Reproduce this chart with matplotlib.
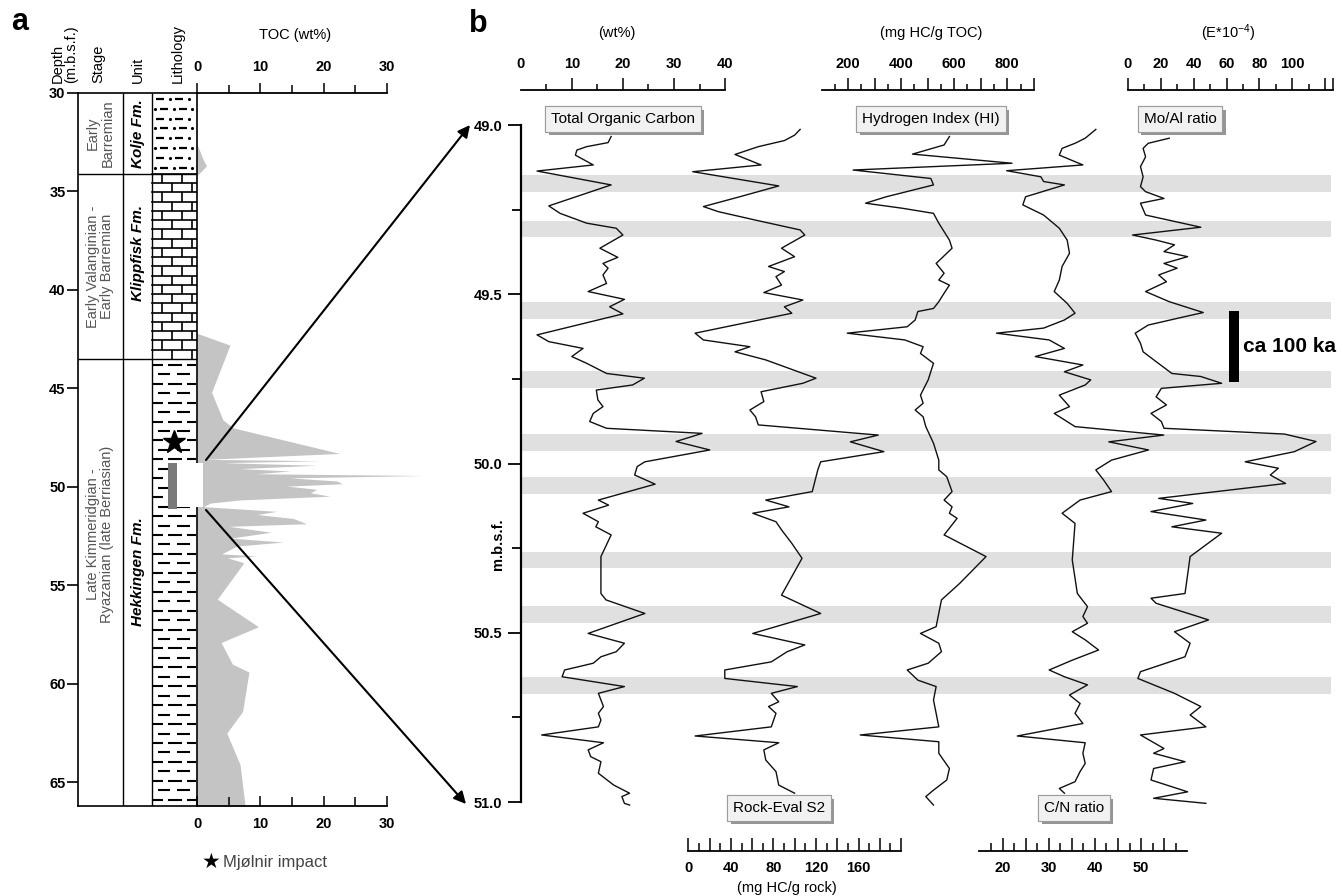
import matplotlib.pyplot as plt
import matplotlib.patheffects as pe
from matplotlib.patches import Rectangle

plt.rcParams['font.family'] = ['Liberation Sans', 'DejaVu Sans']
plt.rcParams['mathtext.default'] = 'regular'

# ---------------- panel a: long TOC record ----------------
toc_a_depth = [32.6, 33.4, 33.7, 34.1, 34.2, 42.2, 42.8, 45.2, 46.6, 47.0,
               48.3, 48.6, 48.67, 48.77, 48.9, 49.07, 49.19, 49.33, 49.42, 49.54,
               49.70, 49.84, 49.96, 50.12, 50.30, 50.47, 50.66, 50.82, 51.0, 51.24,
               51.4, 51.6, 51.87, 52.0, 52.3, 52.6, 52.8, 53.0, 53.4, 53.5,
               53.6, 53.85, 55.7, 57.1, 57.9, 59.0, 59.4, 61.4, 62.5, 64.1, 66.2]
toc_a = [0, 1.0, 1.5, 0.3, 0, 0, 5.2, 2.3, 4.1, 5.7,
         22.5, 1.3, 19.4, 4.2, 18.9, 6.8, 14.7, 9.4, 35.8, 14.7,
         22.1, 22.9, 14.2, 18.9, 17.9, 21.0, 6.8, 2.1, 1.0, 12.6,
         9.5, 15.2, 17.3, 5.0, 11.7, 5.3, 13.6, 6.3, 3.9, 9.4,
         4.8, 7.4, 3.2, 9.7, 3.8, 5.6, 8.2, 7.2, 4.7, 6.8, 7.6]
stage_bounds = [30.0, 34.1, 43.5, 66.2]
stage_names = ['Early\nBarremian', 'Early Valanginian -\nEarly Barremian',
               'Late Kimmeridgian -\nRyazanian (late Berriasian)']
unit_names = ['Kolje Fm.', 'Klippfisk Fm.', 'Hekkingen Fm.']
depth_ticks_a = [30, 35, 40, 45, 50, 55, 60, 65]
impact_depth = 47.7
core_top, core_bottom = 48.8, 51.1

# ---------------- panel b: 49-51 m detail ----------------
toc_b_depth = [49.034, 49.052, 49.064, 49.074, 49.089, 49.118, 49.136, 49.177, 49.239, 49.261,
               49.290, 49.305, 49.325, 49.364, 49.391, 49.409, 49.423, 49.443, 49.468, 49.492,
               49.515, 49.537, 49.558, 49.620, 49.640, 49.660, 49.684, 49.704, 49.734, 49.748,
               49.768, 49.783, 49.812, 49.832, 49.852, 49.876, 49.896, 49.911, 49.935, 49.960,
               49.995, 50.009, 50.034, 50.061, 50.108, 50.123, 50.147, 50.172, 50.187, 50.211,
               50.275, 50.384, 50.403, 50.443, 50.502, 50.531, 50.556, 50.571, 50.590, 50.610,
               50.630, 50.659, 50.679, 50.718, 50.738, 50.758, 50.778, 50.802, 50.825, 50.846,
               50.866, 50.881, 50.915, 50.950, 50.974, 50.984, 51.004, 51.009]
toc_b = [17.7, 17.1, 12.9, 11.0, 10.7, 14.2, 3.2, 17.7, 5.5, 7.7,
         12.9, 18.7, 20.0, 15.5, 19.0, 16.1, 17.1, 16.1, 16.8, 13.2,
         20.3, 17.4, 20.0, 3.2, 5.5, 12.2, 10.0, 12.9, 16.8, 24.2,
         21.9, 14.8, 15.1, 16.1, 14.2, 13.5, 16.8, 35.5, 30.4, 37.0,
         24.3, 22.8, 22.3, 26.3, 15.2, 17.2, 12.2, 15.2, 14.7, 17.7,
         15.7, 15.7, 16.7, 24.3, 13.2, 20.3, 18.7, 15.7, 14.2, 8.6,
         8.1, 20.3, 15.2, 16.2, 15.2, 15.7, 15.2, 4.1, 16.2, 13.2,
         13.7, 15.7, 15.2, 18.2, 21.3, 19.8, 20.3, 21.3]

s2_depth = [49.013, 49.030, 49.046, 49.064, 49.087, 49.118, 49.138, 49.180, 49.212, 49.241,
            49.256, 49.281, 49.310, 49.325, 49.364, 49.389, 49.418, 49.433, 49.448, 49.473,
            49.495, 49.517, 49.537, 49.556, 49.615, 49.635, 49.655, 49.670, 49.694, 49.748,
            49.763, 49.788, 49.817, 49.842, 49.862, 49.886, 49.916, 49.936, 49.965, 49.995,
            50.019, 50.083, 50.108, 50.128, 50.147, 50.172, 50.196, 50.236, 50.280, 50.389,
            50.443, 50.502, 50.536, 50.556, 50.586, 50.610, 50.635, 50.659, 50.679, 50.704,
            50.718, 50.738, 50.778, 50.805, 50.825, 50.846, 50.876, 50.910, 50.950, 50.974]
s2 = [105.1, 99.9, 90.3, 65.8, 43.9, 68.4, 4.2, 85.0, 48.3, 14.2,
      28.2, 63.2, 105.1, 109.5, 87.6, 99.9, 75.4, 90.3, 82.4, 87.6,
      71.0, 107.7, 90.3, 97.3, 6.4, 14.2, 57.9, 43.9, 72.8, 120.0,
      107.7, 68.4, 71.0, 57.9, 63.2, 65.8, 178.5, 152.3, 183.8, 124.4,
      121.7, 116.5, 72.8, 94.6, 60.6, 82.4, 87.6, 97.3, 106.9, 87.6,
      124.4, 60.6, 109.5, 92.9, 78.0, 34.3, 34.3, 102.5, 78.0, 85.0,
      75.4, 82.4, 78.0, 6.4, 85.0, 71.0, 72.8, 82.4, 85.0, 99.9]

hi_depth = [49.034, 49.059, 49.086, 49.113, 49.133, 49.158, 49.177, 49.212, 49.231, 49.246,
            49.261, 49.290, 49.340, 49.364, 49.409, 49.438, 49.458, 49.473, 49.497, 49.522,
            49.542, 49.551, 49.576, 49.596, 49.615, 49.635, 49.655, 49.675, 49.704, 49.753,
            49.798, 49.822, 49.842, 49.862, 49.891, 49.940, 49.990, 50.019, 50.039, 50.083,
            50.108, 50.128, 50.147, 50.162, 50.211, 50.275, 50.354, 50.403, 50.482, 50.502,
            50.531, 50.556, 50.590, 50.610, 50.640, 50.659, 50.699, 50.738, 50.778, 50.802,
            50.822, 50.856, 50.901, 50.935, 50.965, 50.984, 51.009]
hi = [582, 562, 443, 818, 219, 512, 522, 344, 266, 405,
      522, 542, 582, 592, 532, 562, 542, 582, 562, 542,
      522, 463, 453, 423, 197, 414, 483, 473, 522, 502,
      473, 483, 453, 483, 493, 522, 542, 542, 572, 592,
      562, 592, 582, 611, 562, 720, 621, 552, 532, 473,
      542, 552, 502, 423, 463, 532, 522, 532, 542, 246,
      542, 542, 582, 572, 522, 493, 522]

cn_depth = [49.013, 49.039, 49.054, 49.069, 49.089, 49.118, 49.135, 49.153, 49.167, 49.177,
            49.212, 49.236, 49.266, 49.305, 49.340, 49.379, 49.418, 49.458, 49.492, 49.527,
            49.556, 49.576, 49.600, 49.615, 49.635, 49.660, 49.684, 49.709, 49.729, 49.753,
            49.768, 49.798, 49.832, 49.852, 49.891, 49.916, 49.936, 49.960, 49.990, 50.019,
            50.049, 50.083, 50.108, 50.147, 50.177, 50.285, 50.384, 50.423, 50.452, 50.472,
            50.497, 50.521, 50.551, 50.581, 50.610, 50.630, 50.654, 50.684, 50.709, 50.738,
            50.768, 50.805, 50.825, 50.856, 50.886, 50.910, 50.940, 50.960, 50.974]
cn = [40.2, 37.9, 35.7, 32.9, 32.3, 37.4, 20.9, 28.3, 28.9, 33.4,
      25.0, 24.4, 28.9, 32.3, 34.0, 34.5, 32.9, 32.3, 31.2, 34.0,
      35.7, 33.4, 28.9, 18.7, 30.1, 33.4, 27.1, 37.4, 33.4, 39.1,
      37.9, 32.3, 34.5, 31.2, 35.7, 54.9, 43.0, 51.6, 43.6, 40.2,
      41.9, 43.6, 36.8, 32.9, 35.7, 35.1, 36.2, 38.4, 37.4, 38.4,
      35.1, 37.9, 40.8, 35.1, 30.1, 33.4, 38.4, 34.5, 36.8, 35.7,
      37.4, 23.2, 37.9, 37.4, 37.9, 36.8, 35.7, 32.3, 33.4]

mo_depth = [49.039, 49.054, 49.069, 49.094, 49.123, 49.153, 49.182, 49.197, 49.217, 49.231,
            49.266, 49.302, 49.325, 49.340, 49.354, 49.374, 49.389, 49.409, 49.423, 49.443,
            49.463, 49.492, 49.522, 49.554, 49.566, 49.591, 49.615, 49.645, 49.670, 49.699,
            49.734, 49.743, 49.763, 49.778, 49.803, 49.827, 49.852, 49.876, 49.896, 49.913,
            49.935, 49.965, 49.995, 50.014, 50.034, 50.059, 50.103, 50.118, 50.142, 50.167,
            50.187, 50.206, 50.275, 50.384, 50.398, 50.413, 50.462, 50.497, 50.531, 50.571,
            50.615, 50.635, 50.679, 50.718, 50.743, 50.778, 50.802, 50.842, 50.856, 50.881,
            50.901, 50.935, 50.970, 50.989, 51.004]
mo_al = [25.1, 12.3, 9.2, 10.7, 7.6, 9.2, 7.6, 10.7, 21.9, 7.6,
         10.7, 44.3, 2.8, 17.1, 28.3, 21.9, 36.3, 21.9, 29.9, 18.7,
         23.4, 10.7, 25.1, 45.8, 34.7, 12.3, 4.4, 7.6, 9.2, 17.1,
         26.7, 44.3, 57.0, 20.3, 17.1, 23.4, 14.0, 20.3, 21.9, 95.2,
         114.4, 101.3, 71.3, 91.5, 86.6, 95.9, 18.7, 39.4, 14.0, 47.4,
         26.7, 57.0, 37.8, 34.7, 14.0, 17.1, 49.0, 28.3, 37.8, 34.7,
         7.6, 6.0, 28.3, 44.3, 37.8, 47.4, 7.6, 21.9, 15.6, 34.7,
         15.6, 14.0, 36.3, 15.6, 47.4]

band_top = [49.148, 49.284, 49.523, 49.727, 49.913, 50.040, 50.261, 50.421, 50.631]
band_bottom = [49.198, 49.331, 49.573, 49.777, 49.963, 50.090, 50.309, 50.471, 50.681]
depth_ticks_b = [49.0, 49.5, 50.0, 50.5, 51.0]
cycle_top, cycle_bottom = 49.55, 49.76

W, H = 1343, 896
fig = plt.figure(figsize=(W / 100, H / 100), dpi=100)


def px_axes(x0, y0, x1, y1):
    # axes placed by pixel box (y measured from the top of the image)
    return fig.add_axes([x0 / W, 1 - y1 / H, (x1 - x0) / W, (y1 - y0) / H])


def scale_axis(x0, x1, y, lims, major, minor, labelled, top, tall, short, pad):
    ax = px_axes(x0, y, x1, y + 1) if top else px_axes(x0, y - 1, x1, y)
    side = 'top' if top else 'bottom'
    for name, sp in ax.spines.items():
        sp.set_visible(name == side)
    ax.spines[side].set_linewidth(1.3)
    ax.patch.set_visible(False)
    ax.set_xlim(*lims)
    ax.set_yticks([])
    if top:
        ax.xaxis.tick_top()
    ax.set_xticks(major)
    ax.set_xticks(minor, minor=True)
    ax.set_xticklabels([f'{v:g}' if v in labelled else '' for v in major],
                       fontsize=10.5, fontweight='bold')
    ax.tick_params(axis='x', which='both', direction='out' if top else 'in', width=1.1, pad=pad)
    ax.tick_params(axis='x', which='major', length=tall)
    ax.tick_params(axis='x', which='minor', length=short)
    return ax


# ================= panel a =================
ax_t = px_axes(197, 93, 387, 806)
ax_t.set_xlim(0, 30)
ax_t.set_ylim(stage_bounds[-1], stage_bounds[0])
ax_t.axis('off')
ax_t.fill_betweenx(toc_a_depth, 0, toc_a, color='#c4c4c4', lw=0, clip_on=False)

ax_s = px_axes(78, 93, 197, 806)
ax_s.set_xlim(78, 197)
ax_s.set_ylim(stage_bounds[-1], stage_bounds[0])
ax_s.set_xticks([])
ax_s.set_yticks(depth_ticks_a)
ax_s.tick_params(axis='y', direction='out', length=8, width=1.2, labelsize=10.5, pad=1)
plt.setp(ax_s.get_yticklabels(), fontweight='bold')
for sp in ax_s.spines.values():
    sp.set_linewidth(1.2)
ax_s.vlines([123, 152], stage_bounds[0], stage_bounds[-1], color='k', lw=1.0)
ax_s.hlines(stage_bounds[1:-1], 78, 197, color='k', lw=1.0)

# Kolje Fm. : silty shale (dash-dot rows)
d, k = stage_bounds[0] + 0.3, 0
while d < stage_bounds[1]:
    if k % 2 == 0:
        dashes, dots = [(156, 164), (175, 183)], [169.5, 188.5]
    else:
        dashes, dots = [(160, 168), (179, 187)], [155, 173.5, 192]
    for a, b in dashes:
        ax_s.plot([a, b], [d, d], color='k', lw=1.6, solid_capstyle='butt')
    ax_s.plot(dots, [d] * len(dots), 'k.', ms=2.5)
    d += 0.5
    k += 1

# Klippfisk Fm. : limestone bricks
n_rows = 20
step = (stage_bounds[2] - stage_bounds[1]) / n_rows
for k in range(n_rows):
    top = stage_bounds[1] + k * step
    ax_s.plot([152, 197], [top, top], color='k', lw=1.2)
    ax_s.vlines([162, 182] if k % 2 == 0 else [172, 192], top, top + step, color='k', lw=1.2)

# Hekkingen Fm. : shale dashes
d, k = stage_bounds[2] + 0.3, 0
while d < stage_bounds[3]:
    segs = [(153, 163), (168, 182), (187, 196)] if k % 2 == 0 else [(158, 170), (177, 190)]
    for a, b in segs:
        ax_s.plot([a, b], [d, d], color='k', lw=1.5, solid_capstyle='butt')
    d += 0.48
    k += 1

stage_centres = [32.05, 38.8, 52.4]
unit_centres = [32.05, 38.1, 54.3]
for name, yc in zip(stage_names, stage_centres):
    ax_s.text(100, yc, name, rotation=90, ha='center', va='center', multialignment='center',
              fontsize=10.5, color='#555555', linespacing=1.05)
for name, yc in zip(unit_names, unit_centres):
    ax_s.text(138, yc, name, rotation=90, ha='center', va='center', fontsize=11,
              fontweight='bold', fontstyle='italic')

ax_s.plot(174, impact_depth, marker='*', ms=17, color='k', clip_on=False)
ax_s.add_patch(Rectangle((168, core_top), 9, core_bottom - core_top, fc='#7a7a7a', lw=0,
                         clip_on=False, zorder=5))
ax_s.add_patch(Rectangle((177, core_top - 0.03), 26, core_bottom - core_top - 0.05, fc='white',
                         lw=0, clip_on=False, zorder=5))

scale_axis(197, 387, 93, (0, 30), [0, 10, 20, 30], [5, 15, 25], {0, 10, 20, 30},
           top=True, tall=7.5, short=5.5, pad=6.5)
scale_axis(197, 387, 806, (0, 30), [0, 10, 20, 30], [5, 15, 25], {0, 10, 20, 30},
           top=False, tall=7, short=6.5, pad=8)

# ================= panel b =================
B_TOP, B_BOT = 125, 802
TOC_X = (520.7, 725.1)
S2_X = (688.3, 901.1)
HI_X = (821.5, 1033.8)
CN_X = (979.4, 1187.3)
MO_X = (1128.0, 1333.4)

ax_d = px_axes(521, B_TOP, 1331, B_BOT)
ax_d.set_xlim(0, 1)
ax_d.set_ylim(51, 49)
for t, b in zip(band_top, band_bottom):
    ax_d.axhspan(t, b, color='#e0e0e0', lw=0)
for name, sp in ax_d.spines.items():
    sp.set_visible(name == 'left')
ax_d.spines['left'].set_linewidth(1.6)
ax_d.set_xticks([])
ax_d.set_yticks(depth_ticks_b)
ax_d.set_yticks([49.25, 49.75, 50.25, 50.75], minor=True)
ax_d.yaxis.set_major_formatter('{x:.1f}')
ax_d.tick_params(axis='y', which='major', length=9.5, width=1.3, labelsize=10.5, pad=4)
ax_d.tick_params(axis='y', which='minor', length=6.5, width=1.3)
plt.setp(ax_d.get_yticklabels(), fontweight='bold')

for (x0, x1), lims, depth, vals in [(TOC_X, (0, 40), toc_b_depth, toc_b),
                                    (S2_X, (0, 200), s2_depth, s2),
                                    (HI_X, (100, 900), hi_depth, hi),
                                    (CN_X, (15, 60), cn_depth, cn),
                                    (MO_X, (0, 125), mo_depth, mo_al)]:
    ax = px_axes(x0, B_TOP, x1, B_BOT)
    ax.set_xlim(*lims)
    ax.set_ylim(51, 49)
    ax.axis('off')
    ax.plot(vals, depth, color='#111111', lw=1.0, clip_on=False)

ax_top = scale_axis(*TOC_X, 90, (0, 40), [0, 10, 20, 30, 40], [5, 15, 25, 35],
                    {0, 10, 20, 30, 40}, top=True, tall=9, short=4.6, pad=5)
ax_top.xaxis.get_major_ticks()[0].tick2line.set_visible(False)
scale_axis(*HI_X, 90, (100, 900), list(range(200, 901, 100)), list(range(150, 851, 100)),
           {200, 400, 600, 800}, top=True, tall=9, short=4.6, pad=5)
scale_axis(*MO_X, 90, (0, 125), [0, 20, 40, 60, 80, 100, 120, 125], list(range(10, 111, 20)),
           {0, 20, 40, 60, 80, 100}, top=True, tall=9, short=4.6, pad=5)
scale_axis(*S2_X, 851, (0, 200), list(range(0, 201, 20)), list(range(10, 191, 20)),
           {0, 40, 80, 120, 160}, top=False, tall=9.5, short=5.5, pad=7.5)
scale_axis(*CN_X, 851, (15, 60), [20, 25, 30, 35, 40, 45, 50, 55],
           [17.5, 22.5, 27.5, 32.5, 37.5, 42.5, 47.5, 52.5, 57.5],
           {20, 30, 40, 50}, top=False, tall=9.5, short=5.5, pad=7.5)

# ================= overlay: text, arrows, boxes =================
ov = fig.add_axes([0, 0, 1, 1])
ov.set_xlim(0, W)
ov.set_ylim(H, 0)
ov.axis('off')
ov.patch.set_visible(False)

ov.text(20, 22, 'a', fontsize=22, fontweight='bold', ha='center', va='center')
ov.text(478, 24, 'b', fontsize=22, fontweight='bold', ha='center', va='center')

ov.text(64, 83, 'Depth\n(m.b.s.f.)', rotation=90, ha='center', va='bottom',
        multialignment='left', fontsize=10.5, linespacing=0.95)
for x, s in [(98, 'Stage'), (138, 'Unit'), (178, 'Lithology')]:
    ov.text(x, 83, s, rotation=90, ha='center', va='bottom', fontsize=10.5)
ov.text(295, 35, 'TOC (wt%)', ha='center', va='center', fontsize=10.5)

ov.text(211, 862, '\u2605', ha='center', va='center', fontsize=15, family='DejaVu Sans')
ov.text(223, 862, 'Mjølnir impact', ha='left', va='center', fontsize=12, color='#444444')

arrow = dict(arrowstyle='-|>', color='k', lw=1.5, shrinkA=0, shrinkB=0, mutation_scale=18)
ov.annotate('', xy=(470, 125), xytext=(206, 460), arrowprops=arrow)
ov.annotate('', xy=(466, 804), xytext=(206, 510), arrowprops=arrow)

ov.text(498, 544, 'm.b.s.f.', rotation=90, ha='center', va='center', fontsize=10.5,
        fontweight='bold')

ov.text(617, 33, '(wt%)', ha='center', va='center', fontsize=10.5)
ov.text(931, 33, '(mg HC/g TOC)', ha='center', va='center', fontsize=10.5)
ov.text(1228, 33, '(E*10$^{-4}$)', ha='center', va='center', fontsize=10.5)
ov.text(787, 888, '(mg HC/g rock)', ha='center', va='center', fontsize=10.5)

for x, y, s in [(623, 119, 'Total Organic Carbon'), (931, 119, 'Hydrogen Index (HI)'),
                (1180, 119, 'Mo/Al ratio'), (779, 808, 'Rock-Eval S2'), (1074, 808, 'C/N ratio')]:
    t = ov.text(x, y, s, ha='center', va='center', fontsize=11,
                bbox=dict(boxstyle='square,pad=0.38', fc='#f1f1f1', ec='#9c9c9c', lw=0.8))
    t.get_bbox_patch().set_path_effects([
        pe.withSimplePatchShadow(offset=(2.5, -2.5), shadow_rgbFace='#8a8a8a', alpha=0.9),
        pe.Normal()])

# ~100 kyr cycle bar (depth interval mapped onto the panel-b depth scale)
y0 = B_TOP + (cycle_top - 49) / 2 * (B_BOT - B_TOP)
y1 = B_TOP + (cycle_bottom - 49) / 2 * (B_BOT - B_TOP)
ov.add_patch(Rectangle((1229, y0), 9.5, y1 - y0, fc='k', lw=0))
ov.text(1243, (y0 + y1) / 2, 'ca 100 ka', ha='left', va='center', fontsize=15, fontweight='bold')

fig.savefig('out.png', dpi=100)
